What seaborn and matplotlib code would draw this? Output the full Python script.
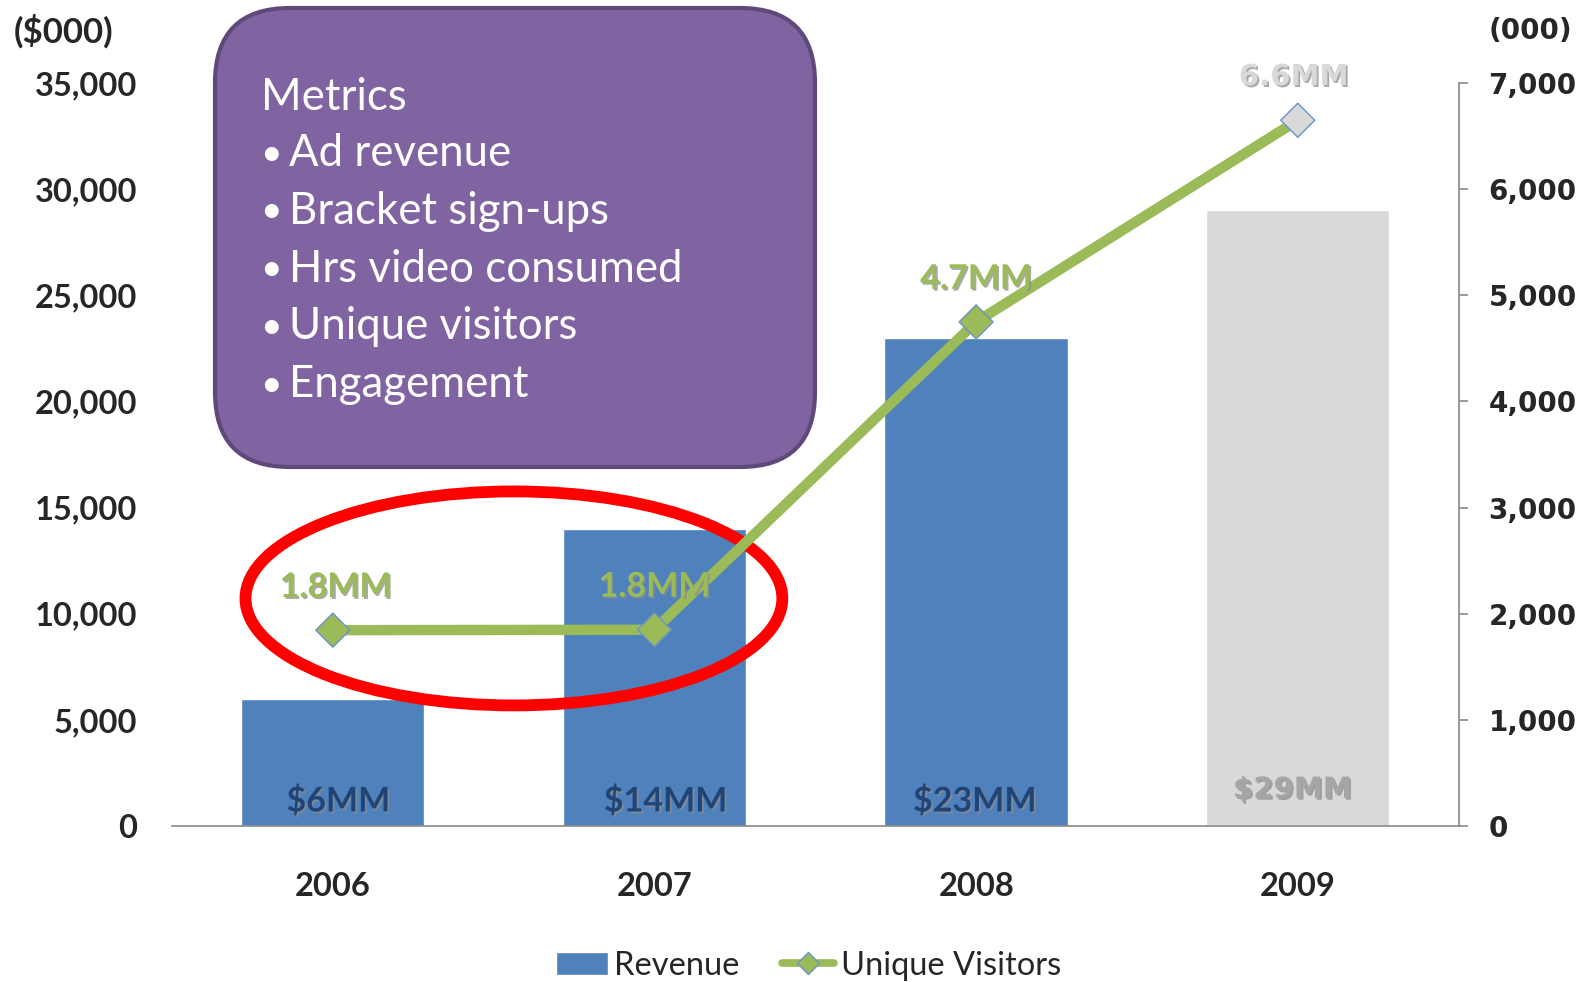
import numpy as np
import pandas as pd
import matplotlib
matplotlib.use("Agg")
import matplotlib.pyplot as plt
import matplotlib.patheffects as pe
from matplotlib.patches import Ellipse, FancyBboxPatch, Patch
from matplotlib.lines import Line2D
from matplotlib.transforms import IdentityTransform
from matplotlib.ticker import FuncFormatter
import seaborn as sns

# ---- data -------------------------------------------------------------
years = ["2006", "2007", "2008", "2009"]
revenue = [6000, 14000, 23000, 29000]        # ($000)
visitors = [1845, 1849, 4749, 6649]          # (000)
revenue_ticks = [0, 5000, 10000, 15000, 20000, 25000, 30000, 35000]
visitor_ticks = [0, 1000, 2000, 3000, 4000, 5000, 6000, 7000]
metrics_title = "Metrics"
metrics = ["Ad revenue", "Bracket sign-ups", "Hrs video consumed",
           "Unique visitors", "Engagement"]

# ---- style ------------------------------------------------------------
sns.set_style("white")
plt.rcParams["font.family"] = ["Lato", "DejaVu Sans"]

BLUE = "#4F81BD"
GREY_BAR = "#D9D9D9"
GREEN = "#9BBB59"
NAVY = "#1F4478"
AXIS_GREY = "#898989"

W, H = 1585, 982
fig = plt.figure(figsize=(W / 100, H / 100), dpi=100)
ax = fig.add_axes([172 / W, 1 - 826 / H, (1458.6 - 172) / W, (826 - 83) / H])

# ---- revenue bars -----------------------------------------------------
df = pd.DataFrame({"year": years, "revenue": revenue, "visitors": visitors})
bar_colors = [BLUE, BLUE, BLUE, GREY_BAR]
sns.barplot(data=df, x="year", y="revenue", hue="year", palette=bar_colors,
            legend=False, width=0.57, saturation=1, ax=ax, zorder=2)

ax.set_xlim(-0.5, 3.5)
ax.set_ylim(0, 35000)
ax.set_yticks(revenue_ticks)
ax.yaxis.set_major_formatter(FuncFormatter(lambda v, _: f"{v:,.0f}"))
ax.set_xlabel("")
ax.set_ylabel("")
for side in ("top", "left", "right"):
    ax.spines[side].set_visible(False)
ax.spines["bottom"].set_color(AXIS_GREY)
ax.spines["bottom"].set_linewidth(1.2)
ax.tick_params(axis="y", length=0, pad=25, labelsize=23.5)
ax.tick_params(axis="x", length=0, pad=33, labelsize=23.5)
for lab in ax.get_yticklabels() + ax.get_xticklabels():
    lab.set_fontweight("bold")

# revenue value labels inside the bars
bar_label_colors = [NAVY, NAVY, NAVY, "#A6A6A6"]
bar_label_fonts = [["Lato"], ["Lato"], ["Lato"], ["DejaVu Sans"]]
bar_label_sizes = [24.5, 24.5, 24.5, 21]
bar_label_dx = [4, 8, -1, -4]
bar_label_dy = [18, 18, 18, 26]
shadow = [pe.SimplePatchShadow(offset=(1.3, -1.3), shadow_rgbFace="#8C8C8C", alpha=0.75),
          pe.Normal()]
for i, v in enumerate(revenue):
    ax.annotate(f"${v / 1000:.0f}MM", (i, 0), xytext=(bar_label_dx[i], bar_label_dy[i]),
                textcoords="offset points", ha="center", va="center",
                fontsize=bar_label_sizes[i], fontweight="bold",
                family=bar_label_fonts[i], color=bar_label_colors[i],
                path_effects=shadow, zorder=6)

# highlight ellipse around the flat 2006-2007 visitor segment
ax.add_patch(Ellipse((0.563, 10721), width=1.669, height=10081, fill=False,
                     edgecolor="#FF0000", linewidth=8.5, zorder=4, clip_on=False))

# ---- unique visitors line (secondary axis) ---------------------------
ax2 = ax.twinx()
sns.lineplot(data=df, x="year", y="visitors", color=GREEN, linewidth=7.5,
             sort=False, ax=ax2, zorder=3)
marker_fills = [GREEN, GREEN, GREEN, GREY_BAR]
sns.scatterplot(data=df, x="year", y="visitors", hue="year", palette=marker_fills,
                marker="D", s=300, edgecolor="#6A92C8", linewidth=1.0,
                legend=False, ax=ax2, zorder=5)

ax2.set_ylim(0, 7000)
ax2.set_xlim(-0.5, 3.5)
ax2.set_yticks(visitor_ticks)
ax2.yaxis.set_major_formatter(FuncFormatter(lambda v, _: f"{v:,.0f}"))
ax2.set_xlabel("")
ax2.set_ylabel("")
for side in ("top", "left", "bottom"):
    ax2.spines[side].set_visible(False)
ax2.spines["right"].set_color(AXIS_GREY)
ax2.spines["right"].set_linewidth(1.2)
ax2.tick_params(axis="y", direction="out", length=6.5, width=1.2, color=AXIS_GREY,
                pad=15, labelsize=20)
for lab in ax2.get_yticklabels():
    lab.set_fontfamily("DejaVu Sans")
    lab.set_fontweight("bold")

line_label_colors = [GREEN, GREEN, GREEN, "#D9D9D9"]
line_label_fonts = [["Lato"], ["Lato"], ["Lato"], ["DejaVu Sans"]]
line_label_sizes = [24.5, 24.5, 24.5, 21]
line_label_dx = [2, 0, 0, -3]
for i, v in enumerate(visitors):
    ax2.annotate(f"{v / 1000:.1f}MM", (i, v), xytext=(line_label_dx[i], 31),
                 textcoords="offset points", ha="center", va="center",
                 fontsize=line_label_sizes[i], fontweight="bold",
                 family=line_label_fonts[i], color=line_label_colors[i],
                 path_effects=shadow, zorder=6)

# ---- axis unit captions -----------------------------------------------
fig.text(14 / W, 1 - 31 / H, "($000)", ha="left", va="center",
         fontsize=25, fontweight="bold")
fig.text(1489 / W, 1 - 31 / H, "(000)", ha="left", va="center",
         fontsize=20, fontweight="bold", family=["DejaVu Sans"])

# ---- metrics call-out box ---------------------------------------------
box = FancyBboxPatch((215, H - 467), 600, 459,
                     boxstyle="round,pad=0,rounding_size=75",
                     transform=IdentityTransform(), facecolor="#8064A2",
                     edgecolor="#5F497A", linewidth=3, zorder=10)
fig.add_artist(box)
fig.text(261 / W, 1 - 97 / H, metrics_title, ha="left", va="center",
         fontsize=31.5, color="white", zorder=11)
for k, item in enumerate(metrics):
    y = 1 - (153.5 + 57.8 * k) / H
    fig.text(260 / W, y, "\u2022", ha="left", va="center", fontsize=27,
             color="white", zorder=11)
    fig.text(289 / W, y, item, ha="left", va="center", fontsize=31.5,
             color="white", zorder=11)

# ---- legend -----------------------------------------------------------
handles = [
    Patch(facecolor=BLUE, label="Revenue"),
    Line2D([], [], color=GREEN, linewidth=5.5, marker="D", markersize=11,
           markerfacecolor=GREEN, markeredgecolor="#6A92C8", label="Unique Visitors"),
]
fig.legend(handles=handles, loc="center", bbox_to_anchor=(0.51, 1 - 966 / H),
           ncol=2, frameon=False, fontsize=23.5, handlelength=1.6,
           handleheight=0.72, handletextpad=0.2, columnspacing=1.3)

fig.savefig("out.png", dpi=100)
